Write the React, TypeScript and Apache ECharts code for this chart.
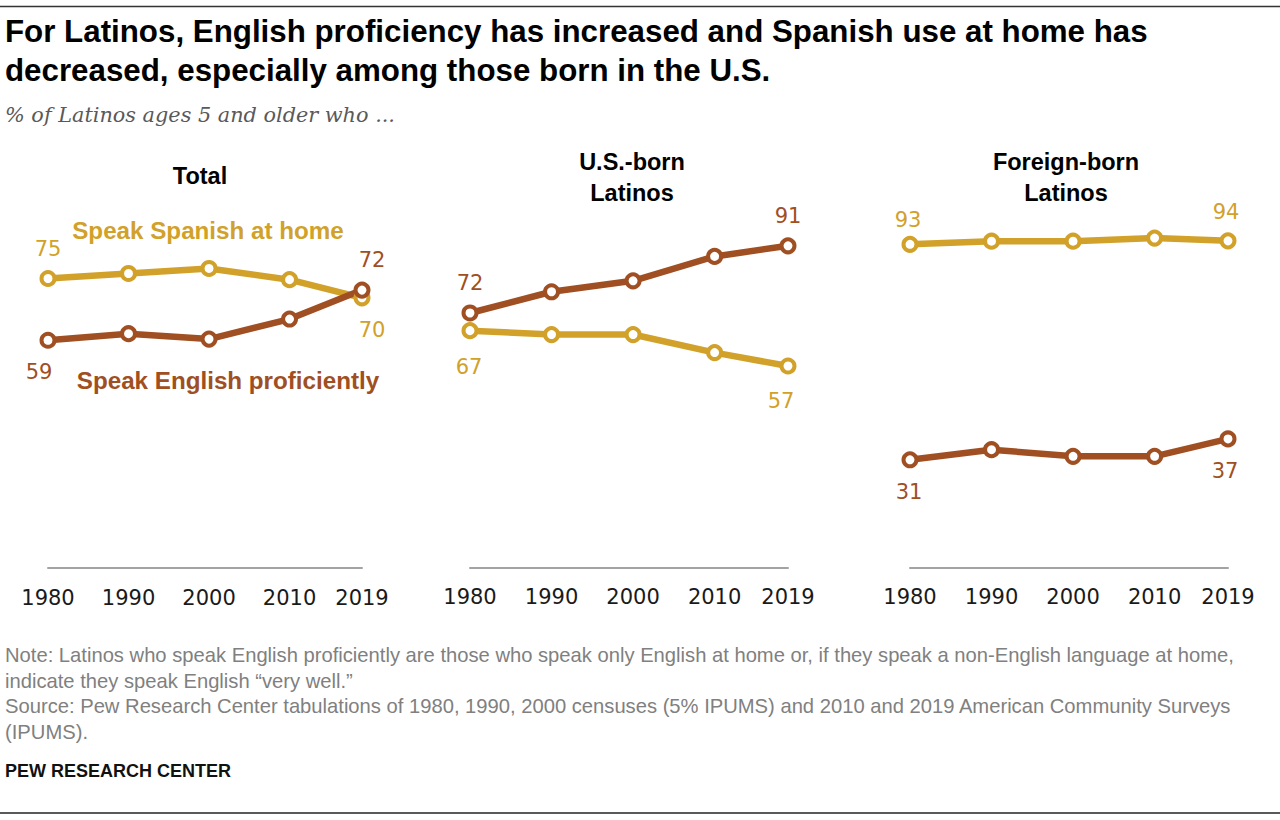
import React, { useEffect, useRef } from "react";
import * as echarts from "echarts";

// ---- data ----
const years = [1980, 1990, 2000, 2010, 2019];
const tickYears = [1980, 1990, 2000, 2010, 2019];
const panelTitles = ["Total", "U.S.-born\nLatinos", "Foreign-born\nLatinos"];
const spanishTotal = [75, 76.3, 77.6, 74.7, 70];
const englishTotal = [59, 60.7, 59.3, 64.5, 72];
const spanishUS = [67, 65.9, 65.9, 60.8, 57];
const englishUS = [72, 78, 81.1, 88, 91];
const spanishFB = [93, 93.9, 93.9, 94.8, 94];
const englishFB = [31, 33.9, 32, 32, 37];
const seriesNames = ["Speak Spanish at home", "Speak English proficiently"];

const titleLines = [
  "For Latinos, English proficiency has increased and Spanish use at home has",
  "decreased, especially among those born in the U.S.",
];
const subtitle = "% of Latinos ages 5 and older who ...";
const noteLines = [
  "Note: Latinos who speak English proficiently are those who speak only English at home or, if they speak a non-English language at home,",
  "indicate they speak English \u201cvery well.\u201d",
  "Source: Pew Research Center tabulations of 1980, 1990, 2000 censuses (5% IPUMS) and 2010 and 2019 American Community Surveys",
  "(IPUMS).",
];
const credit = "PEW RESEARCH CENTER";

// ---- styles / layout ----
const GOLD = "#D1A12A";
const BROWN = "#A04F22";
const SANS = "'Liberation Sans', Arial, sans-serif";
const NUM = "'DejaVu Sans', sans-serif";

const grids = [
  { left: 48, top: 182, width: 314, height: 386 },
  { left: 470, top: 214, width: 318, height: 353.5 },
  { left: 910, top: 220, width: 318, height: 347.5 },
];

// endpoint label placement per panel: [first, last] => [position, dx, dy]
const labelPlace: any[] = [
  { spanish: [["top", 0, 0], ["bottom", 10, 0]], english: [["bottom", -9, 0], ["top", 10, 0]] },
  { spanish: [["bottom", -1, 4], ["bottom", -7, 3]], english: [["top", 0, 0], ["top", 0, 0]] },
  { spanish: [["top", -2, 6], ["top", -2, 1]], english: [["bottom", -1, 0], ["bottom", -3, 0]] },
];

const panels = [
  { spanish: spanishTotal, english: englishTotal },
  { spanish: spanishUS, english: englishUS },
  { spanish: spanishFB, english: englishFB },
];

function buildSeries(values: number[], color: string, place: any[], idx: number, name: string) {
  return {
    type: "line",
    name,
    xAxisIndex: idx,
    yAxisIndex: idx,
    data: years.map((yr, k) => {
      const item: any = { value: [yr, values[k]] };
      if (k === 0 || k === years.length - 1) {
        const p = place[k === 0 ? 0 : 1];
        item.label = {
          show: true,
          position: p[0],
          distance: p[0] === "top" ? 11 : 13,
          offset: [p[1], p[2]],
          formatter: () => String(Math.round(values[k])),
          color,
          fontSize: 21,
          fontFamily: NUM,
        };
      }
      return item;
    }),
    symbol: "circle",
    symbolSize: 13,
    lineStyle: { color, width: 6.5 },
    itemStyle: { color: "#ffffff", borderColor: color, borderWidth: 4 },
    label: { show: false },
    emphasis: { disabled: true },
    silent: true,
    z: 3,
  };
}

export default function App() {
  const ref = useRef<HTMLDivElement>(null);
  useEffect(() => {
    document.body.style.margin = "0";
    const chart = echarts.init(ref.current!, undefined, { renderer: "svg" });
    const series: any[] = [];
    panels.forEach((p, i) => {
      series.push(buildSeries(p.spanish, GOLD, labelPlace[i].spanish, i, seriesNames[0]));
      series.push(buildSeries(p.english, BROWN, labelPlace[i].english, i, seriesNames[1]));
    });
    const panelCenters = [200, 632, 1066];
    const graphic: any[] = [
      { type: "line", shape: { x1: 0, y1: 6.5, x2: 1280, y2: 6.5 }, style: { stroke: "#333", lineWidth: 1.3 } },
      { type: "line", shape: { x1: 0, y1: 813, x2: 1280, y2: 813 }, style: { stroke: "#222", lineWidth: 1.5 } },
      ...titleLines.map((t, i) => ({
        type: "text",
        x: 5,
        y: 31 + i * 39.5,
        style: { text: t, fontSize: 31.3, fontWeight: "bold", fontFamily: SANS, fill: "#000", verticalAlign: "middle" },
      })),
      {
        type: "text",
        x: 5,
        y: 115,
        style: { text: subtitle, fontSize: 20.8, fontStyle: "italic", fontFamily: "'DejaVu Serif', 'Liberation Serif', serif", fill: "#595959", verticalAlign: "middle" },
      },
      ...panelTitles.map((t, i) => ({
        type: "text",
        x: panelCenters[i],
        y: i === 0 ? 176 : 177,
        style: { text: t, fontSize: 23.5, fontWeight: "bold", fontFamily: SANS, fill: "#000", align: "center", verticalAlign: "middle", lineHeight: 31 },
      })),
      {
        type: "text",
        x: 208,
        y: 230,
        style: { text: seriesNames[0], fontSize: 24.2, fontWeight: "bold", fontFamily: SANS, fill: GOLD, align: "center", verticalAlign: "middle" },
      },
      {
        type: "text",
        x: 228,
        y: 380,
        style: { text: seriesNames[1], fontSize: 24.2, fontWeight: "bold", fontFamily: SANS, fill: BROWN, align: "center", verticalAlign: "middle" },
      },
      ...noteLines.map((t, i) => ({
        type: "text",
        x: 5,
        y: 655 + i * 25.5,
        style: { text: t, fontSize: 20.2, fontFamily: SANS, fill: "#808080", verticalAlign: "middle" },
      })),
      {
        type: "text",
        x: 5,
        y: 771,
        style: { text: credit, fontSize: 18, fontWeight: "bold", fontFamily: SANS, fill: "#111", verticalAlign: "middle" },
      },
    ];
    chart.setOption({
      animation: false,
      backgroundColor: "#ffffff",
      grid: grids.map((g) => ({ ...g, containLabel: false })),
      xAxis: grids.map((_, i) => ({
        type: "value",
        gridIndex: i,
        min: 1980,
        max: 2019,
        axisLine: { show: true, lineStyle: { color: "#a3a3a3", width: 2 } },
        axisTick: { show: false },
        splitLine: { show: false },
        axisLabel: {
          customValues: tickYears,
          formatter: (v: number) => String(v),
          fontSize: 21,
          color: "#1a1a1a",
          fontFamily: NUM,
          margin: 19,
        },
      })),
      yAxis: grids.map((_, i) => ({
        type: "value",
        gridIndex: i,
        min: 0,
        max: 100,
        show: false,
      })),
      series,
      graphic,
    });
    return () => chart.dispose();
  }, []);
  return <div ref={ref} style={{ width: 1280, height: 820 }} />;
}
